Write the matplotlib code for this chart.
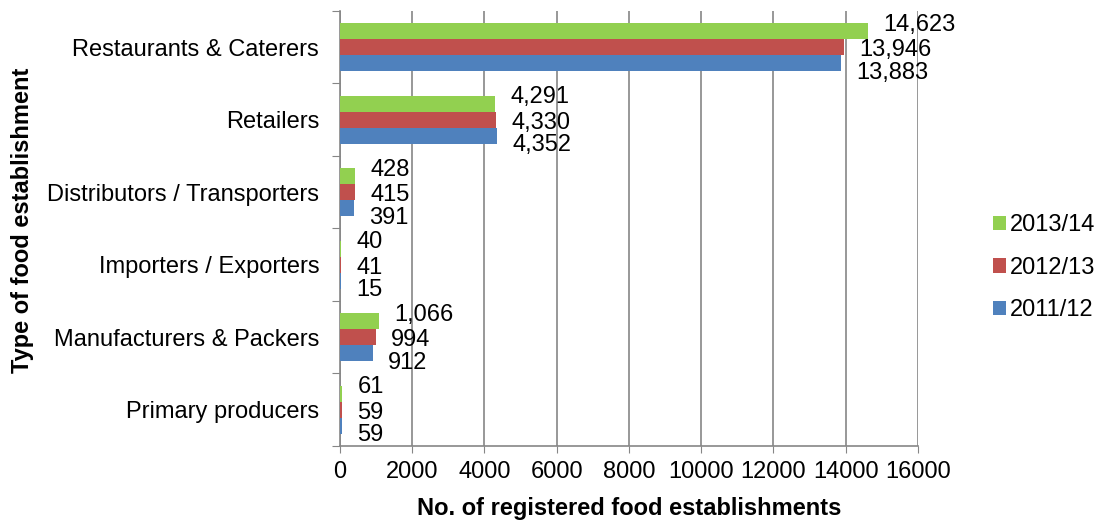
import numpy as np
import matplotlib.pyplot as plt

plt.rcParams['font.family'] = ['Liberation Sans', 'DejaVu Sans']

# categories listed bottom to top
categories = ['Primary producers', 'Manufacturers & Packers', 'Importers / Exporters',
              'Distributors / Transporters', 'Retailers', 'Restaurants & Caterers']
y2011 = [59, 912, 15, 391, 4352, 13883]
y2012 = [59, 994, 41, 415, 4330, 13946]
y2013 = [61, 1066, 40, 428, 4291, 14623]

# name, values, colour, bar offset, label baseline nudge (points)
series = [('2011/12', y2011, '#4F81BD', -0.22, -11.3),
          ('2012/13', y2012, '#C0504D', 0.0, -6.5),
          ('2013/14', y2013, '#92D050', 0.22, 0.5)]

fig = plt.figure(figsize=(11.05, 5.25), dpi=100)
ax = fig.add_axes([0.3077, 0.1505, 0.523, 0.8286])

pos = np.arange(len(categories))
h = 0.22
handles = []
for name, vals, col, off, dy in series:
    b = ax.barh(pos + off, vals, height=h, color=col, label=name, zorder=3)
    handles.append(b)
    for p, v in zip(pos, vals):
        ax.annotate(f'{v:,}', (v, p + off), xytext=(11, dy), textcoords='offset points',
                    va='baseline', ha='left', fontsize=17, zorder=4)

ax.set_xlim(0, 16000)
ax.set_ylim(-0.5, len(categories) - 0.5)
ax.set_xticks(range(0, 16001, 2000))
ax.tick_params(axis='x', labelsize=17, length=5, color='#868686', pad=6)
ax.set_yticks(np.arange(-0.5, len(categories), 1.0))
ax.set_yticklabels([])
ax.tick_params(axis='y', which='major', length=6, color='#868686')
ax.set_yticks(pos, minor=True)
ax.set_yticklabels(categories, minor=True, fontsize=17)
ax.tick_params(axis='y', which='minor', length=0, pad=15)

ax.grid(axis='x', color='#868686', linewidth=1.2, zorder=0)
for s in ['top', 'right']:
    ax.spines[s].set_visible(False)
for s in ['left', 'bottom']:
    ax.spines[s].set_color('#868686')
    ax.spines[s].set_linewidth(1.2)

ax.set_xlabel('No. of registered food establishments', fontsize=17, fontweight='bold', labelpad=10)
fig.text(0.02, 0.58, 'Type of food establishment', rotation=90, fontsize=17,
         fontweight='bold', ha='center', va='center')

fig.legend(handles[::-1], [s[0] for s in series][::-1], loc='center left',
           bbox_to_anchor=(0.8986, 0.49), frameon=False, fontsize=17, borderpad=0,
           borderaxespad=0, handlelength=0.55, handleheight=0.55, handletextpad=0.17,
           labelspacing=0.86)

fig.savefig('out.png', dpi=100)
